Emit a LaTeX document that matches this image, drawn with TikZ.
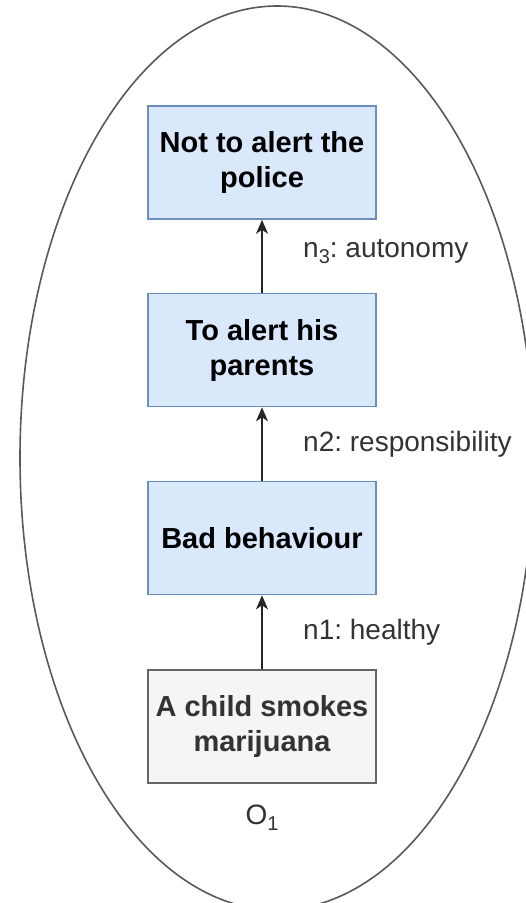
\documentclass[tikz,border=0pt]{standalone}
\usepackage{fontspec}
\setmainfont{Liberation Sans}
\usetikzlibrary{arrows.meta}
\definecolor{boxblue}{HTML}{DAE8FC}
\definecolor{edgeblue}{HTML}{6C8EBF}
\definecolor{boxgrey}{HTML}{F5F5F5}
\definecolor{edgegrey}{HTML}{666666}
\definecolor{textgrey}{HTML}{333333}
\frenchspacing
\newcommand{\lowidx}[1]{\raisebox{-6pt}{\fontsize{20}{20}\selectfont #1}}
\begin{document}
\begin{tikzpicture}[x=1pt,y=-1pt,
  valuebox/.style={draw=edgeblue, fill=boxblue, line width=1.6pt,
    minimum width=228pt, minimum height=113pt, inner sep=0pt, align=center,
    font=\fontsize{29}{35}\selectfont\bfseries},
  factbox/.style={valuebox, draw=edgegrey, fill=boxgrey, text=textgrey},
  link/.style={-{Stealth[length=14pt,width=12pt,inset=4pt]}, line width=1.8pt, draw=black!85},
  normlabel/.style={anchor=west, inner sep=0pt, font=\fontsize{28}{33}\selectfont, text=black!80}]
\useasboundingbox (0,0) rectangle (526,903);

% the option boundary
\begin{scope}
  \clip (0,0) rectangle (526,903);
  \draw[line width=1.6pt, draw=black!65] (277,458) ellipse [x radius=257, y radius=452];
\end{scope}

% chain of nodes, bottom to top
\node[factbox]  (fact)   at (262,726.5) {A child smokes\\marijuana};
\node[valuebox] (bad)    at (262,538)   {Bad behaviour};
\node[valuebox] (parent) at (262,350)   {To alert his\\parents};
\node[valuebox] (police) at (262,162.5) {Not to alert the\\police};

\draw[link] (fact)   -- (bad);
\draw[link] (bad)    -- (parent);
\draw[link] (parent) -- (police);

% norm labels beside the arrows
\node[normlabel] (n1) at (303,632) {n1: healthy};
\node[normlabel] (n2) at (303,444) {n2: responsibility};
\node[normlabel] (n3) at (303,252) {n\lowidx{3}: autonomy};

% option name
\node[font=\fontsize{28}{33}\selectfont, text=black!80, inner sep=0pt] (opt) at (262,818) {O\lowidx{1}};
\end{tikzpicture}
\end{document}
